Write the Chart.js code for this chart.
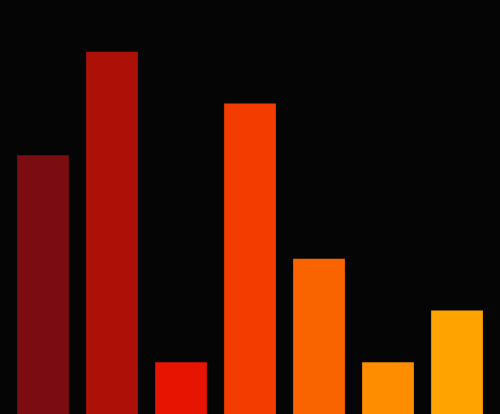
<!DOCTYPE html>
<html><head><meta charset="utf-8">
<script src="https://cdn.jsdelivr.net/npm/chart.js@4/dist/chart.umd.min.js"></script>
<style>html,body{margin:0;padding:0;background:#050505;}#wrap{width:500px;height:414px;}</style>
</head><body><div id="wrap"><canvas id="c"></canvas></div>
<script>
const categories = ["A","B","C","D","E","F","G"];
const values = [5,7,1,6,3,1,2];
const colors = ["#7b0d12","#ad1007","#e61400","#f23c00","#fa6400","#fe8d00","#ffa300"];
const yMin = 0, yMax = 8;
new Chart(document.getElementById('c'), {
  type: 'bar',
  data: { labels: categories, datasets: [{ data: values, backgroundColor: colors, borderWidth: 0, barPercentage: 0.75, categoryPercentage: 1 }] },
  options: {
    responsive: true, maintainAspectRatio: false, animation: false,
    layout: { padding: { left: 8.5, right: 8.5, top: 0, bottom: 0 } },
    plugins: { legend: { display: false }, tooltip: { enabled: false } },
    scales: {
      x: { display: false },
      y: { display: false, min: yMin, max: yMax }
    }
  }
});
</script></body></html>
